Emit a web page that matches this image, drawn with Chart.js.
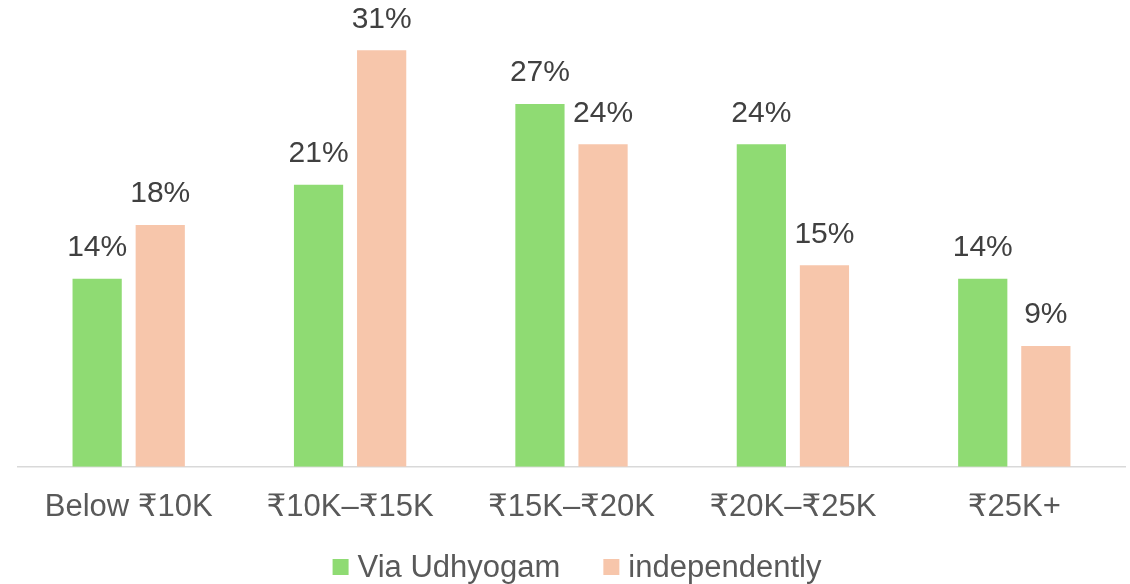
<!DOCTYPE html>
<html>
<head>
<meta charset="utf-8">
<script src="https://cdn.jsdelivr.net/npm/chart.js@4.4.1/dist/chart.umd.min.js"></script>
<style>
  html, body { margin: 0; padding: 0; background: #fff; }
  #wrap { width: 1130px; height: 584px; }
</style>
</head>
<body>
<div id="wrap"><canvas id="salaryChart" width="1130" height="584"></canvas></div>
<script>
  const categories = ["Below ₹10K", "₹10K–₹15K", "₹15K–₹20K", "₹20K–₹25K", "₹25K+"];
  const viaUdhyogam = [14, 21, 27, 24, 14];
  const independently = [18, 31, 24, 15, 9];
  const seriesNames = ["Via Udhyogam", "independently"];
  const seriesColors = ["#8FDB73", "#F7C6AB"];

  const fontFamily = "'Liberation Sans', Arial, 'DejaVu Sans', sans-serif";

  // labels on top of each bar
  const barLabels = {
    id: "barLabels",
    afterDatasetsDraw(chart) {
      const ctx = chart.ctx;
      ctx.save();
      ctx.font = "30px " + fontFamily;
      ctx.fillStyle = "#404040";
      ctx.textAlign = "center";
      ctx.textBaseline = "bottom";
      chart.data.datasets.forEach((ds, i) => {
        chart.getDatasetMeta(i).data.forEach((bar, j) => {
          ctx.fillText(ds.data[j] + "%", bar.x, bar.y - 16);
        });
      });
      ctx.restore();
    }
  };

  // legend drawn by hand so the spacing matches the original
  const bottomLegend = {
    id: "bottomLegend",
    afterDraw(chart) {
      const ctx = chart.ctx;
      ctx.save();
      ctx.font = "31px " + fontFamily;
      const box = 16, textGap = 9, itemGap = 43;
      const widths = chart.data.datasets.map(ds => ctx.measureText(ds.label).width);
      const total = widths.reduce((s, w) => s + box + textGap + w, 0) + itemGap * (widths.length - 1);
      let x = 577 - total / 2;
      const y = 567;
      ctx.textBaseline = "middle";
      ctx.textAlign = "left";
      chart.data.datasets.forEach((ds, i) => {
        ctx.fillStyle = ds.backgroundColor;
        ctx.fillRect(x, y - box / 2, box, box);
        ctx.fillStyle = "#595959";
        ctx.fillText(ds.label, x + box + textGap, y + 1);
        x += box + textGap + widths[i] + itemGap;
      });
      ctx.restore();
    }
  };

  new Chart(document.getElementById("salaryChart"), {
    type: "bar",
    data: {
      labels: categories,
      datasets: [
        { label: seriesNames[0], data: viaUdhyogam, backgroundColor: seriesColors[0] },
        { label: seriesNames[1], data: independently, backgroundColor: seriesColors[1] }
      ]
    },
    options: {
      responsive: false,
      animation: false,
      layout: { padding: { left: 18, right: 5, top: 10, bottom: 44 } },
      datasets: {
        bar: { categoryPercentage: 0.57, barPercentage: 0.78 }
      },
      scales: {
        x: {
          grid: { display: false },
          border: { display: true, color: "#D9D9D9", width: 1.5 },
          ticks: {
            color: "#595959",
            font: { family: fontFamily, size: 31 },
            padding: 14,
            maxRotation: 0
          }
        },
        y: { display: false, min: 0, max: 34 }
      },
      plugins: {
        legend: { display: false },
        tooltip: { enabled: false }
      }
    },
    plugins: [barLabels, bottomLegend]
  });
</script>
</body>
</html>
